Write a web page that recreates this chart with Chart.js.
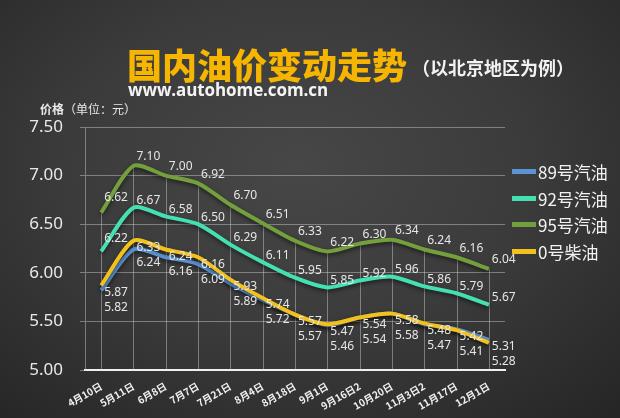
<!DOCTYPE html>
<html>
<head>
<meta charset="utf-8">
<script src="https://cdn.jsdelivr.net/npm/chart.js@4.4.0/dist/chart.umd.min.js"></script>
<style>
html, body { margin: 0; padding: 0; }
body {
    width: 620px; height: 418px; overflow: hidden; position: relative;
    background: radial-gradient(ellipse 75% 80% at 48% 40%, #474747 0%, #3b3b3b 50%, #262626 100%);
    font-family: "Noto Sans", "Noto Sans CJK SC", sans-serif;
}
#chart { position: absolute; left: 0; top: 0; }
.txt { position: absolute; white-space: nowrap; line-height: 1; }
#title { left: 127px; top: 38px; font: 900 35px "Noto Sans CJK SC"; color: #f5b500; }
#sub { left: 412px; top: 54px; font: 700 18px "Noto Sans CJK SC"; color: #f2f2f2; }
#url { left: 128px; top: 78px; font: 700 17px "Open Sans"; color: #f4f4f4; letter-spacing: -0.1px; }
#unit { left: 40px; top: 100px; font: 400 12px "Noto Sans CJK SC"; color: #e8e8e8; }
#unit b { font-weight: 700; }
#legend { position: absolute; left: 512px; top: 158px; }
.item { height: 26.7px; display: flex; align-items: center; font: 400 17px "Noto Sans CJK SC"; color: #f2f2f2; }
.swatch { width: 24px; height: 5px; margin-right: 2px; }
</style>
</head>
<body>
<canvas id="chart" width="620" height="418"></canvas>
<div class="txt" id="title">国内油价变动走势</div>
<div class="txt" id="sub">（以北京地区为例）</div>
<div class="txt" id="url">www.autohome.com.cn</div>
<div class="txt" id="unit"><b>价格</b>（单位：元）</div>
<div id="legend"></div>
<script>
const dates = ['4月10日', '5月11日', '6月8日', '7月7日', '7月21日', '8月4日', '8月18日', '9月1日', '9月16日2', '10月20日', '11月3日2', '11月17日', '12月1日'];
const gas89 = [5.82, 6.24, 6.16, 6.09, 5.89, 5.72, 5.57, 5.46, 5.54, 5.58, 5.47, 5.42, 5.31];
const gas92 = [6.22, 6.67, 6.58, 6.50, 6.29, 6.11, 5.95, 5.85, 5.92, 5.96, 5.86, 5.79, 5.67];
const gas95 = [6.62, 7.10, 7.00, 6.92, 6.70, 6.51, 6.33, 6.22, 6.30, 6.34, 6.24, 6.16, 6.04];
const diesel0 = [5.87, 6.33, 6.24, 6.16, 5.93, 5.74, 5.57, 5.47, 5.54, 5.58, 5.48, 5.41, 5.28];
const yTicks = [5.00, 5.50, 6.00, 6.50, 7.00, 7.50];

const series = [
    { label: '89号汽油', data: gas89, color: '#5b93d3', order: 2 },
    { label: '92号汽油', data: gas92, color: '#45e0b2', order: 3 },
    { label: '95号汽油', data: gas95, color: '#73a03c', order: 4 },
    { label: '0号柴油', data: diesel0, color: '#f2c11c', order: 1 }
];

// legend
const legend = document.getElementById('legend');
series.forEach(s => {
    const row = document.createElement('div');
    row.className = 'item';
    row.innerHTML = `<span class="swatch" style="background:${s.color}"></span>${s.label}`;
    legend.appendChild(row);
});

const gridColor = 'rgba(210,210,210,0.45)';

// vertical drop lines from the highest point down to the axis
const dropLines = {
    id: 'dropLines',
    beforeDatasetsDraw(chart) {
        const { ctx, chartArea, scales: { x, y } } = chart;
        ctx.save();
        ctx.strokeStyle = gridColor;
        ctx.lineWidth = 1;
        dates.forEach((d, i) => {
            const top = Math.max(...series.map(s => s.data[i]));
            const px = Math.round(x.getPixelForValue(i)) + 0.5;
            ctx.beginPath();
            ctx.moveTo(px, y.getPixelForValue(top));
            ctx.lineTo(px, chartArea.bottom);
            ctx.stroke();
        });
        ctx.restore();
    }
};

const lineShadow = {
    id: 'lineShadow',
    beforeDatasetDraw(chart) {
        const ctx = chart.ctx;
        ctx.save();
        ctx.shadowColor = 'rgba(0,0,0,0.55)';
        ctx.shadowBlur = 4;
        ctx.shadowOffsetY = 2;
    },
    afterDatasetDraw(chart) {
        chart.ctx.restore();
    }
};

// value labels to the right of each point
const valueLabels = {
    id: 'valueLabels',
    afterDatasetsDraw(chart) {
        const { ctx, scales: { x, y } } = chart;
        ctx.save();
        ctx.font = '12px "Noto Sans"';
        ctx.fillStyle = '#e6e6e6';
        ctx.textAlign = 'left';
        ctx.textBaseline = 'middle';
        dates.forEach((d, i) => {
            const px = x.getPixelForValue(i) + 3;
            const lift = i === 0 ? 6 : 0;
            ctx.fillText(gas95[i].toFixed(2), px, y.getPixelForValue(gas95[i]) - 9 - lift);
            ctx.fillText(gas92[i].toFixed(2), px, y.getPixelForValue(gas92[i]) - 7 - lift);
            const hi = Math.max(gas89[i], diesel0[i]);
            const lo = Math.min(gas89[i], diesel0[i]);
            const base = y.getPixelForValue(hi);
            ctx.fillText(hi.toFixed(2), px, base + 7);
            ctx.fillText(lo.toFixed(2), px, base + 22);
        });
        ctx.restore();
    }
};

new Chart(document.getElementById('chart'), {
    type: 'line',
    data: {
        labels: dates,
        datasets: series.map(s => ({
            label: s.label,
            data: s.data,
            borderColor: s.color,
            backgroundColor: s.color,
            borderWidth: 4,
            pointRadius: 0,
            tension: 0.25,
            fill: false,
            order: s.order
        }))
    },
    options: {
        responsive: false,
        animation: false,
        layout: { padding: { left: 0, top: 127, right: 115, bottom: 0 } },
        plugins: { legend: { display: false }, tooltip: { enabled: false } },
        scales: {
            x: {
                offset: true,
                afterFit: scale => { scale.height = 48; },
                grid: { display: false },
                border: { display: true, color: '#f0f0f0', width: 2 },
                ticks: {
                    color: '#f0f0f0',
                    font: { family: '"Noto Sans CJK SC"', size: 10, weight: 'bold' },
                    minRotation: 30,
                    maxRotation: 30,
                    autoSkip: false,
                    padding: 2
                }
            },
            y: {
                min: 5,
                max: 7.5,
                afterFit: scale => { scale.width = 85; },
                afterBuildTicks: scale => { scale.ticks = yTicks.map(v => ({ value: v })); },
                grid: { color: gridColor, tickLength: 5, drawTicks: true },
                border: { display: true, color: gridColor, width: 1 },
                ticks: {
                    color: '#e8e8e8',
                    font: { family: '"Noto Sans"', size: 17 },
                    padding: 17,
                    callback: v => Number(v).toFixed(2)
                }
            }
        }
    },
    plugins: [dropLines, lineShadow, valueLabels]
});
</script>
</body>
</html>
